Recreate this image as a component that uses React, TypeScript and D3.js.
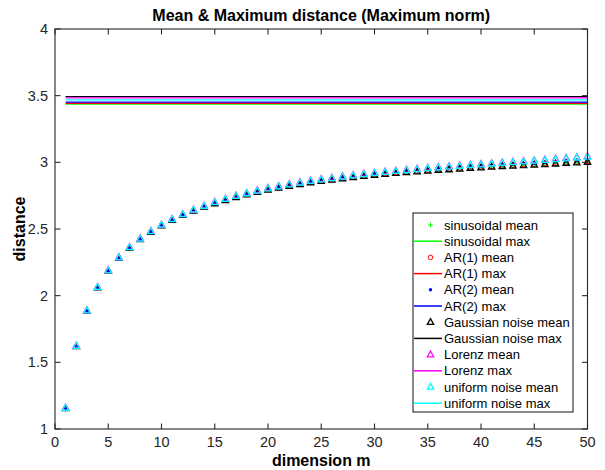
import React from 'react';
import * as d3 from 'd3';

// embedding dimension m
const dims = [1,2,3,4,5,6,7,8,9,10,11,12,13,14,15,16,17,18,19,20,21,22,23,24,25,26,27,28,29,30,31,32,33,34,35,36,37,38,39,40,41,42,43,44,45,46,47,48,49,50];

// mean distance per dimension
const sinMean = [1.155,1.619,1.885,2.060,2.186,2.282,2.359,2.423,2.477,2.526,2.567,2.603,2.637,2.666,2.692,2.716,2.738,2.758,2.777,2.794,2.809,2.823,2.836,2.848,2.859,2.869,2.879,2.888,2.897,2.905,2.912,2.919,2.925,2.931,2.937,2.942,2.947,2.952,2.957,2.961,2.966,2.970,2.974,2.978,2.982,2.986,2.990,2.994,2.998,3.002];
const ar1Mean = [1.154,1.619,1.884,2.061,2.186,2.283,2.359,2.423,2.478,2.526,2.567,2.604,2.637,2.667,2.693,2.717,2.739,2.759,2.778,2.795,2.810,2.824,2.837,2.849,2.860,2.871,2.881,2.890,2.899,2.907,2.914,2.921,2.928,2.934,2.940,2.945,2.950,2.955,2.960,2.965,2.969,2.974,2.978,2.982,2.986,2.990,2.994,2.998,3.002,3.006];
const ar2Mean = [1.156,1.621,1.886,2.061,2.186,2.283,2.360,2.424,2.479,2.527,2.569,2.606,2.639,2.668,2.695,2.719,2.741,2.761,2.781,2.798,2.813,2.827,2.840,2.853,2.864,2.874,2.884,2.893,2.903,2.911,2.918,2.925,2.932,2.938,2.945,2.950,2.956,2.961,2.967,2.971,2.977,2.981,2.986,2.991,2.995,3.000,3.005,3.010,3.015,3.021];
const gaussMean = [1.155,1.620,1.885,2.060,2.185,2.282,2.358,2.422,2.477,2.525,2.566,2.603,2.636,2.665,2.691,2.715,2.737,2.757,2.776,2.793,2.808,2.822,2.835,2.847,2.858,2.868,2.878,2.887,2.896,2.904,2.911,2.918,2.924,2.930,2.936,2.941,2.946,2.951,2.956,2.960,2.965,2.969,2.973,2.977,2.981,2.985,2.989,2.993,2.997,3.001];
const lorenzMean = [1.158,1.623,1.888,2.064,2.189,2.286,2.363,2.427,2.483,2.531,2.573,2.610,2.644,2.673,2.702,2.726,2.749,2.769,2.789,2.806,2.821,2.836,2.849,2.862,2.873,2.883,2.894,2.903,2.913,2.921,2.929,2.936,2.943,2.950,2.957,2.963,2.969,2.975,2.981,2.986,2.992,2.997,3.002,3.008,3.013,3.019,3.025,3.031,3.037,3.044];
const uniMean = [1.157,1.622,1.887,2.063,2.188,2.285,2.362,2.426,2.482,2.530,2.572,2.609,2.643,2.672,2.699,2.723,2.746,2.766,2.786,2.803,2.818,2.833,2.846,2.859,2.870,2.880,2.891,2.900,2.910,2.918,2.926,2.933,2.940,2.947,2.954,2.960,2.966,2.972,2.978,2.983,2.989,2.994,2.999,3.005,3.010,3.016,3.022,3.028,3.034,3.041];

// maximum distance (constant over m)
const sinMax = 3.437;
const ar1Max = 3.443;
const ar2Max = 3.451;
const gaussMax = 3.493;
const lorenzMax = 3.483;
const uniMax = 3.468;

const xTicks = [0,5,10,15,20,25,30,35,40,45,50];
const yTicks = [1,1.5,2,2.5,3,3.5,4];

type Marker = 'plus' | 'circle' | 'dot' | 'tri';
const series: { name: string; mean: number[]; max: number; color: string; marker: Marker }[] = [
  { name: 'sinusoidal', mean: sinMean, max: sinMax, color: '#00ff00', marker: 'plus' },
  { name: 'AR(1)', mean: ar1Mean, max: ar1Max, color: '#ff0000', marker: 'circle' },
  { name: 'AR(2)', mean: ar2Mean, max: ar2Max, color: '#0000ff', marker: 'dot' },
  { name: 'Gaussian noise', mean: gaussMean, max: gaussMax, color: '#000000', marker: 'tri' },
  { name: 'Lorenz', mean: lorenzMean, max: lorenzMax, color: '#ff00ff', marker: 'tri' },
  { name: 'uniform noise', mean: uniMean, max: uniMax, color: '#00ffff', marker: 'tri' },
];

const W = 605, H = 470;
const L = 55, R = 587.5, T = 29, B = 429;
const FONT = "'Liberation Sans', Arial, Helvetica, sans-serif";
const AX = '#262626';

function MarkerShape({ type, color, x, y }: { type: Marker; color: string; x: number; y: number }) {
  if (type === 'plus') {
    return <path d={`M${x - 2.3},${y}H${x + 2.3}M${x},${y - 2.3}V${y + 2.3}`} stroke={color} strokeWidth={1} fill="none" />;
  }
  if (type === 'circle') {
    return <circle cx={x} cy={y} r={2.3} stroke={color} strokeWidth={1} fill="none" />;
  }
  if (type === 'dot') {
    return <circle cx={x} cy={y} r={1.7} fill={color} />;
  }
  return <path d={`M${x},${y - 3.6}L${x + 3.2},${y + 2.2}L${x - 3.2},${y + 2.2}Z`} stroke={color} strokeWidth={1.3} fill="none" />;
}

export default function App() {
  const x = d3.scaleLinear().domain([0, 50]).range([L, R]);
  const y = d3.scaleLinear().domain([1, 4]).range([B, T]);
  const maxLine = d3.line<number>().x((d) => x(d));

  const legendX = 413, legendY = 213, legendW = 160, legendH = 199;
  const rowH = 16.2;
  const entries: { label: string; color: string; kind: Marker | 'line' }[] = [];
  series.forEach((s) => {
    entries.push({ label: `${s.name} mean`, color: s.color, kind: s.marker });
    entries.push({ label: `${s.name} max`, color: s.color, kind: 'line' });
  });

  return (
    <svg width={W} height={H} style={{ position: 'absolute', left: 0, top: 0, background: '#fff' }} fontFamily={FONT}>
      <rect x={0} y={0} width={W} height={H} fill="#fff" />
      {/* data */}
      <g>
        {series.map((s) => (
          <g key={s.name}>
            {s.mean.map((v, i) => (
              <MarkerShape key={i} type={s.marker} color={s.color} x={x(dims[i])} y={y(v)} />
            ))}
            <path
              d={maxLine.y(() => y(s.max))([dims[0], dims[dims.length - 1]]) || ''}
              stroke={s.color}
              strokeWidth={1.3}
              fill="none"
            />
          </g>
        ))}
      </g>
      {/* axes box with inward ticks on all sides */}
      <g stroke={AX} strokeWidth={1.1} fill="none">
        <rect x={L} y={T} width={R - L} height={B - T} />
        {xTicks.map((t) => (
          <g key={`xt${t}`}>
            <line x1={x(t)} x2={x(t)} y1={B} y2={B - 5.5} />
            <line x1={x(t)} x2={x(t)} y1={T} y2={T + 5.5} />
          </g>
        ))}
        {yTicks.map((t) => (
          <g key={`yt${t}`}>
            <line x1={L} x2={L + 5.5} y1={y(t)} y2={y(t)} />
            <line x1={R} x2={R - 5.5} y1={y(t)} y2={y(t)} />
          </g>
        ))}
      </g>
      <g fill={AX} fontSize={14.5}>
        {xTicks.map((t) => (
          <text key={`xl${t}`} x={x(t)} y={B + 18} textAnchor="middle">{t}</text>
        ))}
        {yTicks.map((t) => (
          <text key={`yl${t}`} x={L - 7} y={y(t) + 5} textAnchor="end">{t}</text>
        ))}
      </g>
      <text x={(L + R) / 2} y={466} textAnchor="middle" fontSize={16} fontWeight="bold" fill="#000">dimension m</text>
      <text transform={`translate(25,${(T + B) / 2}) rotate(-90)`} textAnchor="middle" fontSize={16} fontWeight="bold" fill="#000">distance</text>
      <text x={(L + R) / 2} y={21} textAnchor="middle" fontSize={16} fontWeight="bold" fill="#000">Mean &amp; Maximum distance (Maximum norm)</text>
      {/* legend */}
      <g>
        <rect x={legendX} y={legendY} width={legendW} height={legendH} fill="#fff" stroke={AX} strokeWidth={1.1} />
        {entries.map((e, i) => {
          const cy = legendY + 12 + i * rowH;
          return (
            <g key={e.label}>
              {e.kind === 'line' ? (
                <line x1={legendX + 1} x2={legendX + 29} y1={cy} y2={cy} stroke={e.color} strokeWidth={1.5} />
              ) : (
                <MarkerShape type={e.kind} color={e.color} x={legendX + 17.5} y={cy} />
              )}
              <text x={legendX + 31} y={cy + 4.6} fontSize={13} fill="#000">{e.label}</text>
            </g>
          );
        })}
      </g>
    </svg>
  );
}
